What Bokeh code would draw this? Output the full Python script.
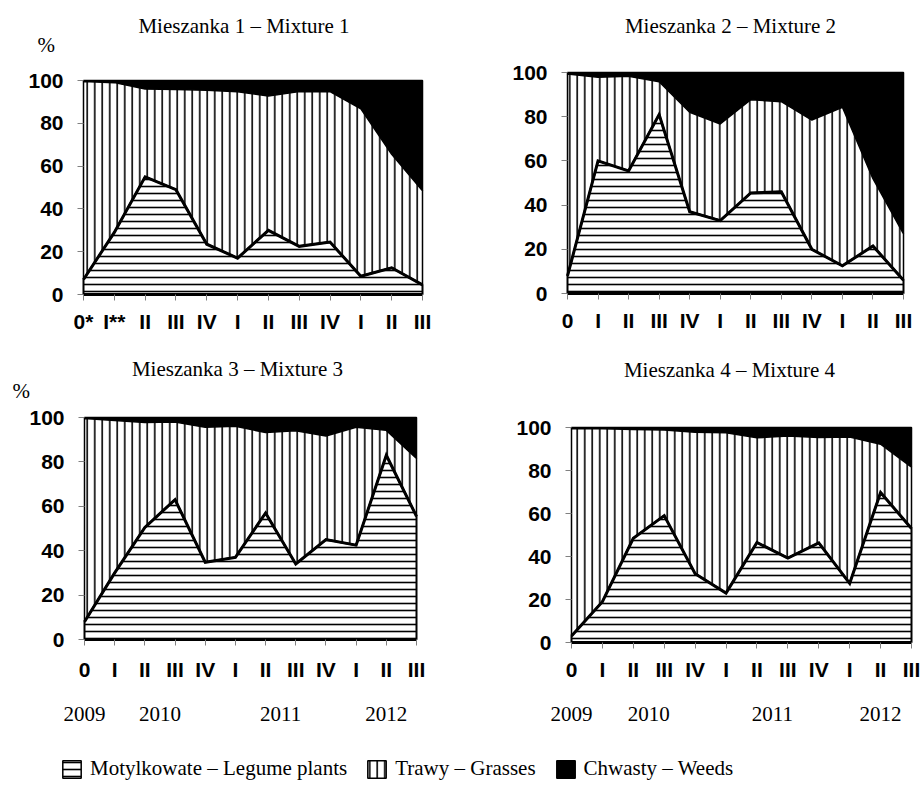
from bokeh.plotting import figure
from bokeh.models import FixedTicker, LinearAxis, Label, Range1d, Legend, LegendItem
from bokeh.layouts import column, row
from bokeh.embed import file_html
from bokeh.resources import INLINE

# ---------------- data ----------------
x_idx = list(range(12))
labels_m1 = ["0*", "I**", "II", "III", "IV", "I", "II", "III", "IV", "I", "II", "III"]
labels_std = ["0", "I", "II", "III", "IV", "I", "II", "III", "IV", "I", "II", "III"]
y_ticks = [0, 20, 40, 60, 80, 100]
years = ["2009", "2010", "2011", "2012"]
year_pos = [0, 2.5, 6.5, 10]

titles = ["Mieszanka 1 – Mixture 1", "Mieszanka 2 – Mixture 2",
          "Mieszanka 3 – Mixture 3", "Mieszanka 4 – Mixture 4"]
unit_label = "%"
legend_labels = ["Motylkowate – Legume plants", "Trawy – Grasses", "Chwasty – Weeds"]

# legume plants share (%)
legume_1 = [7, 29, 55, 49, 23.5, 17, 30, 22.5, 24.5, 8.5, 12.5, 4.5]
legume_2 = [8, 60, 55.5, 81, 37, 33, 45.5, 46, 20, 12.5, 21.5, 6]
legume_3 = [8, 30, 50.5, 63, 34.8, 37, 57, 34, 45, 42.5, 83, 55.5]
legume_4 = [3, 19, 48.5, 59, 32, 23, 46.5, 39.3, 46.3, 27.5, 69.8, 53]
# grasses share (%)
grasses_1 = [92.5, 70, 41, 46.8, 72, 77.7, 62.8, 72.3, 70.3, 78.3, 53, 44]
grasses_2 = [91.3, 37.8, 42.8, 14.8, 45, 43.7, 42.2, 40.8, 58.5, 71.8, 30.5, 21]
grasses_3 = [91.5, 68.6, 47.2, 35, 60.8, 59.1, 36.2, 60, 46.7, 53.1, 11.2, 26]
grasses_4 = [96.5, 80.4, 50.6, 39.8, 65.8, 74.5, 48.7, 56.7, 49, 68.1, 22.4, 28.6]
# weeds share (%) = remainder
weeds_1 = [round(100 - l - g, 1) for l, g in zip(legume_1, grasses_1)]
weeds_2 = [round(100 - l - g, 1) for l, g in zip(legume_2, grasses_2)]
weeds_3 = [round(100 - l - g, 1) for l, g in zip(legume_3, grasses_3)]
weeds_4 = [round(100 - l - g, 1) for l, g in zip(legume_4, grasses_4)]

SERIF = "Liberation Serif"
SANS = "Liberation Sans"
FS = "21px"

LEG_STYLE = dict(fill_color="white", hatch_pattern="-", hatch_scale=7, hatch_weight=1.6, hatch_color="black")
GRS_STYLE = dict(fill_color="white", hatch_pattern="|", hatch_scale=7.5, hatch_weight=1.6, hatch_color="black")
WEED_STYLE = dict(fill_color="black")


def make_panel(title_text, legume, grasses, weeds, xlabels, W, H, box,
               title_dx, title_dy, x_standoff, pct_dx=None, pct_dy=0, year_standoff=None):
    """box = (left, top, right, bottom) pixel position of the 0..11 x 0..100 plot area."""
    bx0, by0, bx1, by1 = box
    x0, x1 = x_idx[0], x_idx[-1]
    y0, y1 = y_ticks[0], y_ticks[-1]
    sx = (bx1 - bx0) / (x1 - x0)
    sy = (by1 - by0) / (y1 - y0)
    xr = Range1d(x0 - bx0 / sx, x1 + (W - bx1) / sx)
    yr = Range1d(y0 - (H - by1) / sy, y1 + by0 / sy)

    n = len(x_idx)
    lower = [0] * n
    top_l = list(legume)
    top_g = [l + g for l, g in zip(legume, grasses)]
    top_w = [t + w for t, w in zip(top_g, weeds)]
    xs = x_idx + x_idx[::-1]

    p = figure(width=W, height=H, min_border=0, x_range=xr, y_range=yr,
               x_axis_location=None, y_axis_location=None,
               output_backend="svg", toolbar_location=None, title=None)
    p.background_fill_color = "white"
    p.border_fill_color = "white"
    p.outline_line_color = None
    p.xgrid.visible = False
    p.ygrid.visible = False

    p.patch(xs, top_w + top_g[::-1], line_color="black", line_width=1.5, **WEED_STYLE)
    p.patch(xs, top_g + top_l[::-1], line_color="black", line_width=1.5, **GRS_STYLE)
    p.patch(xs, top_l + lower[::-1], line_color="black", line_width=2, **LEG_STYLE)
    p.line(x_idx, top_l, line_color="black", line_width=3, line_join="miter")
    p.line(x_idx, lower, line_color="black", line_width=3)

    xa = LinearAxis(fixed_location=y0, ticker=FixedTicker(ticks=x_idx),
                    major_label_overrides={i: lab for i, lab in zip(x_idx, xlabels)})
    ya = LinearAxis(fixed_location=x0, ticker=FixedTicker(ticks=y_ticks))
    for ax in (xa, ya):
        ax.axis_line_color = None
        ax.major_tick_line_color = "#808080"
        ax.minor_tick_line_color = None
        ax.major_tick_in = 0
        ax.major_tick_out = 6
        ax.major_label_text_font = SANS
        ax.major_label_text_font_size = FS
        ax.major_label_text_font_style = "bold"
        ax.major_label_text_color = "black"
    ya.major_label_standoff = 14
    xa.major_label_standoff = x_standoff
    p.add_layout(xa, "below")
    p.add_layout(ya, "left")

    if year_standoff is not None:
        yax = LinearAxis(fixed_location=y0, ticker=FixedTicker(ticks=year_pos),
                         major_label_overrides={pos: y for pos, y in zip(year_pos, years)})
        yax.axis_line_color = None
        yax.major_tick_line_color = None
        yax.minor_tick_line_color = None
        yax.major_tick_out = 0
        yax.major_label_standoff = year_standoff
        yax.major_label_text_font = SERIF
        yax.major_label_text_font_size = FS
        yax.major_label_text_color = "black"
        p.add_layout(yax, "below")

    xmid = (x0 + x1) / 2
    p.add_layout(Label(x=xmid, y=y1, x_offset=title_dx, y_offset=title_dy,
                       text=title_text, text_align="center", text_baseline="middle",
                       text_font=SERIF, text_font_size=FS, text_color="black"))
    if pct_dx is not None:
        p.add_layout(Label(x=x0, y=y1, x_offset=pct_dx, y_offset=pct_dy,
                           text=unit_label, text_align="left", text_baseline="middle",
                           text_font=SERIF, text_font_size=FS, text_color="black"))
    return p


p1 = make_panel(titles[0], legume_1, grasses_1, weeds_1, labels_m1, 460, 340, (83, 80, 422, 294),
                title_dx=-9, title_dy=55, x_standoff=9, pct_dx=-46, pct_dy=36)
p2 = make_panel(titles[1], legume_2, grasses_2, weeds_2, labels_std, 460, 340, (107, 72, 443, 293),
                title_dx=-5, title_dy=47, x_standoff=9)
p3 = make_panel(titles[2], legume_3, grasses_3, weeds_3, labels_std, 460, 405, (84, 77, 416, 299),
                title_dx=-13, title_dy=49, x_standoff=12, pct_dx=-72, pct_dy=27, year_standoff=67)
p4 = make_panel(titles[3], legume_4, grasses_4, weeds_4, labels_std, 460, 405, (111, 87, 451, 302),
                title_dx=-12, title_dy=58, x_standoff=9, year_standoff=64)

# legend strip (marks kept outside the visible range; only the legend is shown)
lf = figure(width=920, height=40, min_border=0,
            x_range=Range1d(100, 101), y_range=Range1d(0, 100),
            output_backend="svg", toolbar_location=None, title=None,
            x_axis_location=None, y_axis_location=None)
lf.outline_line_color = None
lf.xgrid.visible = False
lf.ygrid.visible = False
r1 = lf.quad(left=x_idx[:1], right=x_idx[1:2], bottom=[0], top=legume_1[:1],
             line_color="black", line_width=1.5, **LEG_STYLE)
r2 = lf.quad(left=x_idx[:1], right=x_idx[1:2], bottom=[0], top=grasses_1[:1],
             line_color="black", line_width=1.5, **GRS_STYLE)
r3 = lf.quad(left=x_idx[:1], right=x_idx[1:2], bottom=[0], top=weeds_1[:1],
             line_color="black", line_width=1.5, **WEED_STYLE)
legend = Legend(items=[LegendItem(label=legend_labels[0], renderers=[r1]),
                       LegendItem(label=legend_labels[1], renderers=[r2]),
                       LegendItem(label=legend_labels[2], renderers=[r3])],
                location=(60, 4), orientation="horizontal",
                glyph_width=23, glyph_height=22, label_standoff=7, spacing=18,
                padding=0, margin=0, border_line_color=None, background_fill_alpha=0,
                label_text_font=SERIF, label_text_font_size=FS, label_text_color="black")
lf.add_layout(legend)

layout = column(row(p1, p2), row(p3, p4), lf)
open("out.html", "w").write(file_html(layout, INLINE))
